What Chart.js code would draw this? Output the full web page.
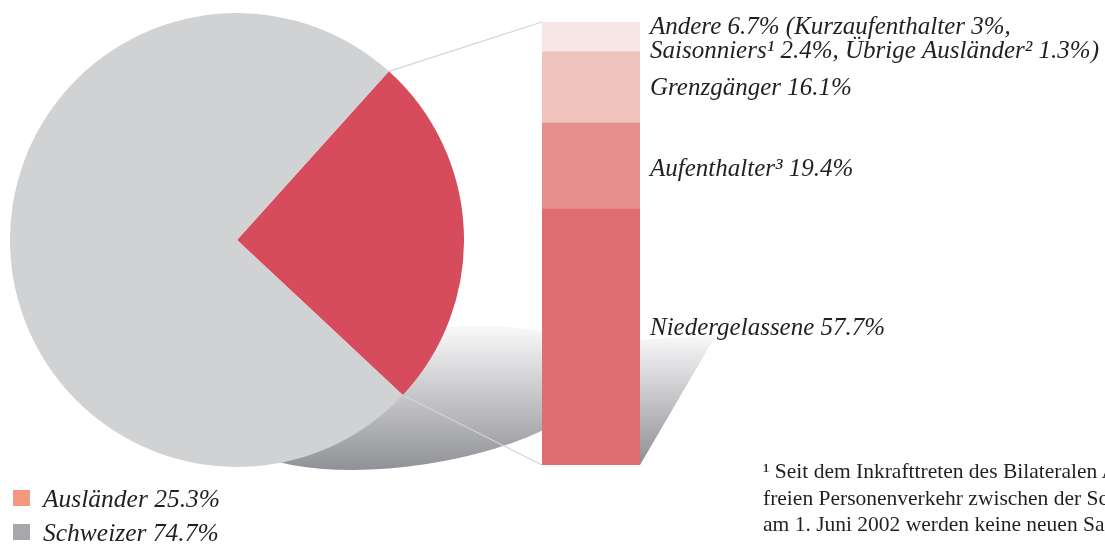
<!DOCTYPE html>
<html lang="de">
<head>
    <meta charset="UTF-8">
    <title>Ausländer nach Bewilligung</title>
    <script src="https://cdn.jsdelivr.net/npm/chart.js"></script>
    <style>
        body { margin: 0; width: 1105px; height: 545px; overflow: hidden; background: #fff; position: relative; }
        #barChart { position: absolute; left: 0; top: 0; }
        #pieChart { position: absolute; left: 10px; top: 13px; }
        .legend { position: absolute; left: 13px; font: italic 25.5px "Liberation Serif", serif; color: #231f20; white-space: nowrap; }
        .legend span { display: inline-block; width: 17px; height: 16px; vertical-align: middle; margin-right: 13px; position: relative; top: -3px; }
        .footnote { position: absolute; left: 763px; top: 458px; font: 21.5px "Liberation Serif", serif; line-height: 26.5px; color: #231f20; white-space: nowrap; }
    </style>
</head>
<body>

    <canvas id="barChart" width="1105" height="545"></canvas>
    <canvas id="pieChart" width="454" height="454"></canvas>

    <div class="legend" style="top: 484px;"><span style="background:#f4977e"></span>Ausländer 25.3%</div>
    <div class="legend" style="top: 518px;"><span style="background:#a7a8ac"></span>Schweizer 74.7%</div>

    <div class="footnote">
        ¹ Seit dem Inkrafttreten des Bilateralen Abkommens<br>
        freien Personenverkehr zwischen der Schweiz<br>
        am 1. Juni 2002 werden keine neuen Saisonniers
    </div>

    <script>
        // Kuchen: Wohnbevölkerung
        const pieLabels = ['Ausländer', 'Schweizer'];
        const pieValues = [25.3, 74.7];

        // Säule: Ausländer nach Bewilligung (von unten nach oben)
        const barLabels = ['Niedergelassene 57.7%', 'Aufenthalter³ 19.4%', 'Grenzgänger 16.1%',
                           'Andere 6.7% (Kurzaufenthalter 3%,|Saisonniers¹ 2.4%, Übrige Ausländer² 1.3%)'];
        const barValues = [57.7, 19.4, 16.1, 6.7];

        const pieChart = new Chart(document.getElementById('pieChart'), {
            type: 'pie',
            data: {
                labels: pieLabels,
                datasets: [{
                    data: pieValues,
                    backgroundColor: ['#d64c5c', '#d1d2d4'],
                    borderWidth: 0,
                    hoverOffset: 0
                }]
            },
            options: {
                responsive: false,
                animation: false,
                rotation: 42,
                layout: { padding: 0 },
                plugins: { legend: { display: false }, tooltip: { enabled: false } }
            }
        });

        const barColors = ['#de6e72', '#e5908c', '#efc2bd', '#f7e6e3'];
        const labelShift = [-10, 2, 0, 0];

        // Schatten, Verbindungslinien und Beschriftungen
        const decor = {
            id: 'decor',
            beforeDatasetsDraw(chart) {
                const ctx = chart.ctx;
                ctx.save();
                // Schatten-Ellipse unter dem Kuchen
                let g = ctx.createLinearGradient(0, 330, 0, 468);
                g.addColorStop(0, '#f6f6f7');
                g.addColorStop(1, '#929398');
                ctx.fillStyle = g;
                ctx.beginPath();
                ctx.ellipse(415, 398, 188, 67, -0.15, 0, Math.PI * 2);
                ctx.fill();
                // Keil rechts der Säule
                g = ctx.createLinearGradient(0, 335, 0, 465);
                g.addColorStop(0, '#f9f9fa');
                g.addColorStop(1, '#8e8f94');
                ctx.fillStyle = g;
                ctx.beginPath();
                ctx.moveTo(640, 340);
                ctx.lineTo(716, 335);
                ctx.lineTo(640, 465);
                ctx.closePath();
                ctx.fill();

                // Linien vom roten Sektor zur Säule
                const arc = pieChart.getDatasetMeta(0).data[0];
                const px = arc.x + 10, py = arc.y + 13, r = arc.outerRadius;
                const bot = chart.getDatasetMeta(0).data[0];
                const top = chart.getDatasetMeta(barValues.length - 1).data[0];
                const left = bot.x - bot.width / 2;
                ctx.strokeStyle = '#d4d4d6';
                ctx.lineWidth = 1.2;
                ctx.beginPath();
                ctx.moveTo(px + r * Math.cos(arc.startAngle), py + r * Math.sin(arc.startAngle));
                ctx.lineTo(left, top.y);
                ctx.moveTo(px + r * Math.cos(arc.endAngle), py + r * Math.sin(arc.endAngle));
                ctx.lineTo(left, bot.base);
                ctx.stroke();
                ctx.restore();
            },
            afterDraw(chart) {
                const ctx = chart.ctx;
                ctx.save();
                ctx.fillStyle = '#231f20';
                ctx.font = 'italic 25px "Liberation Serif", serif';
                ctx.textBaseline = 'alphabetic';
                barLabels.forEach((lab, i) => {
                    const el = chart.getDatasetMeta(i).data[0];
                    const cy = (el.y + el.base) / 2;
                    const x = el.x + el.width / 2 + 10;
                    const lines = lab.split('|');
                    if (lines.length > 1) {
                        ctx.fillText(lines[0], x, cy - 3);
                        ctx.fillText(lines[1], x, cy + 21);
                    } else {
                        ctx.fillText(lines[0], x, cy + 8 + labelShift[i]);
                    }
                });
                ctx.restore();
            }
        };

        new Chart(document.getElementById('barChart'), {
            type: 'bar',
            data: {
                labels: [''],
                datasets: barLabels.map((lab, i) => ({
                    label: lab,
                    data: [barValues[i]],
                    backgroundColor: barColors[i],
                    borderWidth: 0,
                    barPercentage: 1,
                    categoryPercentage: 1
                }))
            },
            options: {
                responsive: false,
                animation: false,
                layout: { padding: { left: 542, right: 465, top: 22, bottom: 80 } },
                scales: {
                    x: { stacked: true, display: false },
                    y: { stacked: true, display: false, min: 0, max: barValues.reduce((a, b) => a + b, 0) }
                },
                plugins: { legend: { display: false }, tooltip: { enabled: false } }
            },
            plugins: [decor]
        });
    </script>

</body>
</html>
